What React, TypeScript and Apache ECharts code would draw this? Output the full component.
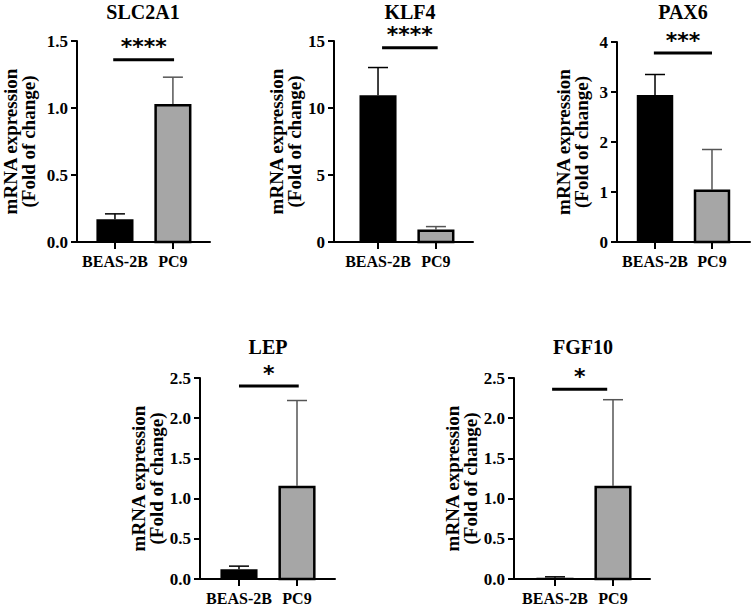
import React, { useEffect, useRef } from "react";
import * as echarts from "echarts";

const categories = ["BEAS-2B", "PC9"];
const genes = ["SLC2A1", "KLF4", "PAX6", "LEP", "FGF10"];
const beasMean = [0.17, 10.95, 2.94, 0.12, 0.015];
const beasSD = [0.04, 2.07, 0.41, 0.04, 0.012];
const pc9Mean = [1.03, 0.93, 1.05, 1.16, 1.16];
const pc9SD = [0.2, 0.22, 0.8, 1.06, 1.07];
const yMax = [1.5, 15, 4, 2.5, 2.5];
const yInterval = [0.5, 5, 1, 0.5, 0.5];
const yDecimals = [1, 0, 0, 1, 1];
const sigLabels = ["****", "****", "***", "*", "*"];
const sigValue = [1.36, 14.5, 3.78, 2.4, 2.36];

// layout (pixels / axis extents)
const layout = [
  { left: 77, top: 41, width: 133, height: 201, xMin: -0.655, xMax: 1.64, nameGap: 40, tx: 143, ty: 12, s0: -0.03, s1: 1.02 },
  { left: 334, top: 41, width: 139, height: 201, xMin: -0.76, xMax: 1.64, nameGap: 15, tx: 410, ty: 12, s0: 0.07, s1: 1.03 },
  { left: 617, top: 42, width: 133, height: 200, xMin: -0.667, xMax: 1.667, nameGap: 27, tx: 683, ty: 12, s0: -0.02, s1: 1.0 },
  { left: 200, top: 378, width: 135, height: 201, xMin: -0.672, xMax: 1.655, nameGap: 19, tx: 268, ty: 347, s0: 0.0, s1: 1.03 },
  { left: 514, top: 378, width: 136, height: 201, xMin: -0.707, xMax: 1.638, nameGap: 34, tx: 583, ty: 347, s0: -0.05, s1: 0.9 },
];

const FONT = "Liberation Serif";
const STAR_FONT = "DejaVu Sans";
const barFill = ["#000000", "#a6a6a6"];
const errColor = ["#000000", "#555555"];

export default function App() {
  const ref = useRef<HTMLDivElement>(null);
  useEffect(() => {
    if (!ref.current) return;
    const chart = echarts.init(ref.current, undefined, { renderer: "svg" });
    const grids: any[] = [];
    const xAxes: any[] = [];
    const yAxes: any[] = [];
    const series: any[] = [];
    const graphics: any[] = [];

    genes.forEach((g, i) => {
      const L = layout[i];
      grids.push({ left: L.left, top: L.top, width: L.width, height: L.height, containLabel: false, outerBoundsMode: "none" });
      xAxes.push({
        type: "value",
        gridIndex: i,
        min: L.xMin,
        max: L.xMax,
        splitLine: { show: false },
        axisLine: { show: true, onZero: false, lineStyle: { color: "#000", width: 2 } },
        axisTick: { show: true, customValues: [0, 1], length: 7, lineStyle: { color: "#000", width: 2 } },
        axisLabel: {
          show: true,
          customValues: [0, 1],
          formatter: (v: number) => categories[Math.round(v)] ?? "",
          margin: 11,
          fontFamily: FONT,
          fontWeight: "bold",
          fontSize: 16,
          color: "#000",
        },
      });
      yAxes.push({
        type: "value",
        gridIndex: i,
        min: 0,
        max: yMax[i],
        interval: yInterval[i],
        splitLine: { show: false },
        axisLine: { show: true, onZero: false, lineStyle: { color: "#000", width: 2 } },
        axisTick: { show: true, length: 6, lineStyle: { color: "#000", width: 2 } },
        axisLabel: {
          margin: 9,
          formatter: (v: number) => v.toFixed(yDecimals[i]),
          fontFamily: FONT,
          fontWeight: "bold",
          fontSize: 17,
          color: "#000",
        },
        name: "mRNA expression\n(Fold of change)",
        nameLocation: "middle",
        nameRotate: 90,
        nameGap: L.nameGap,
        nameTextStyle: { fontFamily: FONT, fontWeight: "bold", fontSize: 19, lineHeight: 18, color: "#000" },
      });
      series.push({
        type: "custom",
        xAxisIndex: i,
        yAxisIndex: i,
        clip: false,
        data: [
          [0, beasMean[i], beasSD[i], 0],
          [1, pc9Mean[i], pc9SD[i], 1],
        ],
        renderItem: (params: any, api: any) => {
          const x = api.value(0);
          const v = api.value(1);
          const sd = api.value(2);
          const ci = api.value(3);
          const p0 = api.coord([x - 0.32, 0]);
          const p1 = api.coord([x + 0.32, v]);
          const c = api.coord([x, v]);
          const top = api.coord([x, v + sd]);
          const lw = ci === 1 ? 2.5 : 0;
          const h = Math.max(p0[1] - p1[1] - lw / 2, 0.8);
          return {
            type: "group",
            children: [
              {
                type: "line",
                shape: { x1: c[0], y1: c[1], x2: c[0], y2: top[1] },
                style: { stroke: errColor[ci], lineWidth: 1.5 },
              },
              {
                type: "line",
                shape: { x1: c[0] - 10, y1: top[1], x2: c[0] + 10, y2: top[1] },
                style: { stroke: errColor[ci], lineWidth: 1.5 },
              },
              {
                type: "rect",
                shape: { x: p0[0] + lw / 2, y: p1[1] + lw / 2, width: p1[0] - p0[0] - lw, height: h },
                style: { fill: barFill[ci], stroke: lw ? "#000" : undefined, lineWidth: lw },
              },
            ],
          };
        },
      });
      series.push({
        type: "custom",
        xAxisIndex: i,
        yAxisIndex: i,
        clip: false,
        data: [[L.s0, L.s1, sigValue[i]]],
        renderItem: (params: any, api: any) => {
          const a = api.coord([api.value(0), api.value(2)]);
          const b = api.coord([api.value(1), api.value(2)]);
          return {
            type: "group",
            children: [
              { type: "line", shape: { x1: a[0], y1: a[1], x2: b[0], y2: b[1] }, style: { stroke: "#000", lineWidth: 3 } },
              {
                type: "text",
                x: (a[0] + b[0]) / 2,
                y: a[1] - 13,
                style: {
                  text: sigLabels[i],
                  fontFamily: STAR_FONT,
                  fontWeight: "bold",
                  fontSize: 22,
                  fill: "#000",
                  align: "center",
                  verticalAlign: "middle",
                  textAlign: "center",
                  textVerticalAlign: "middle",
                },
              },
            ],
          };
        },
      });
      graphics.push({
        type: "text",
        x: L.tx,
        y: L.ty,
        style: {
          text: g,
          fontFamily: FONT,
          fontWeight: "bold",
          fontSize: 20,
          fill: "#000",
          textAlign: "center",
          textVerticalAlign: "middle",
        },
      });
    });

    chart.setOption({
      animation: false,
      backgroundColor: "#fff",
      textStyle: { fontFamily: FONT },
      grid: grids,
      xAxis: xAxes,
      yAxis: yAxes,
      series,
      graphic: graphics,
    });
    return () => chart.dispose();
  }, []);
  return <div ref={ref} style={{ position: "fixed", left: 0, top: 0, width: 752, height: 606 }} />;
}
